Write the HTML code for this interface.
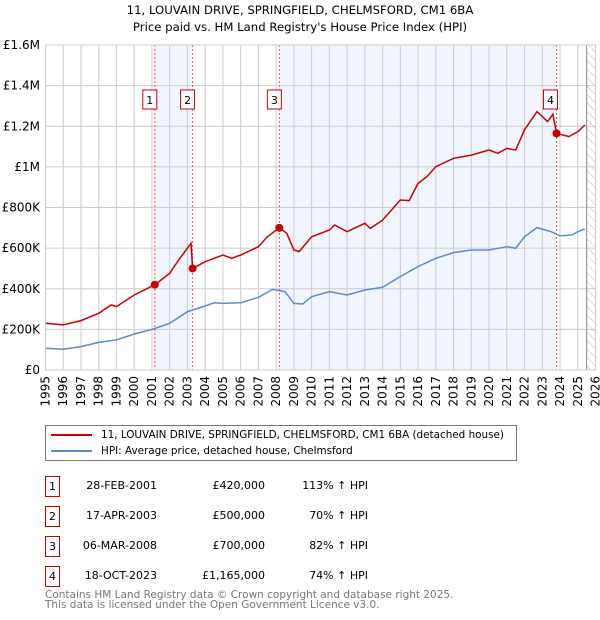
<!DOCTYPE html>
<html><head><meta charset="utf-8"><style>
body{margin:0;width:600px;height:620px;background:#fff;font-family:"DejaVu Sans","Liberation Sans",sans-serif;color:#000;position:relative;overflow:hidden}
.t{position:absolute;font-size:11.7px;white-space:nowrap}
.box{position:absolute;border:1px solid #c00;font-size:11px;text-align:center;line-height:19px;box-sizing:border-box;width:15px;height:21px}
.c{position:absolute;font-size:11px;white-space:nowrap}
</style></head><body>
<div class="t" style="left:0;width:600px;text-align:center;top:3px">11, LOUVAIN DRIVE, SPRINGFIELD, CHELMSFORD, CM1 6BA</div>
<div class="t" style="left:0;width:600px;text-align:center;top:20px">Price paid vs. HM Land Registry's House Price Index (HPI)</div>
<svg id="chart" width="600" height="420" style="position:absolute;left:0;top:0"></svg>
<div style="position:absolute;left:45px;top:425px;width:472px;height:36px;border:1px solid #777;box-sizing:border-box;font-size:10.4px">
 <div style="position:absolute;left:5px;top:3px;white-space:nowrap"><span style="display:inline-block;width:41px;height:2px;background:#c00;vertical-align:middle;margin-right:9px"></span>11, LOUVAIN DRIVE, SPRINGFIELD, CHELMSFORD, CM1 6BA (detached house)</div>
 <div style="position:absolute;left:5px;top:19px;white-space:nowrap"><span style="display:inline-block;width:41px;height:2px;background:#5b8bd0;vertical-align:middle;margin-right:9px"></span>HPI: Average price, detached house, Chelmsford</div>
</div>
<div id="tbl"></div>
<div style="position:absolute;left:45px;top:590px;font-size:10.5px;color:#777;line-height:10px">Contains HM Land Registry data © Crown copyright and database right 2025.<br>This data is licensed under the Open Government Licence v3.0.</div>
<script>
const hpiYears=[1995,1996,1997,1998,1999,2000,2001,2002,2003,2004,2004.5,2005,2006,2007,2007.8,2008.5,2009,2009.5,2010,2011,2012,2013,2014,2015,2016,2017,2018,2019,2020,2021,2021.5,2022,2022.7,2023.5,2024,2024.7,2025,2025.4];
const hpiValues=[107,102,115,136,148,177,200,230,287,315,331,328,331,358,397,386,328,325,361,386,369,394,407,460,509,550,578,591,591,607,599,656,701,681,660,665,681,694];
const propYears=[1995,1996,1997,1998,1998.7,1999,2000,2001.16,2002,2002.5,2003.2,2003.29,2004,2005,2005.5,2006,2007,2007.5,2008.18,2008.6,2009,2009.3,2010,2011,2011.3,2012,2013,2013.3,2014,2015,2015.5,2016,2016.5,2017,2018,2019,2020,2020.5,2021,2021.5,2022,2022.7,2023.3,2023.6,2023.8,2024.5,2025,2025.4];
const propValues=[230,222,243,279,320,312,369,420,476,541,624,500,533,566,550,566,607,656,700,673,591,583,656,689,714,681,722,697,738,837,834,919,952,1001,1042,1058,1083,1067,1091,1083,1182,1272,1223,1260,1165,1149,1173,1206];
const saleYears=[2001.16,2003.29,2008.18,2023.8];
const saleValues=[420,500,700,1165];
const saleLabels=["1","2","3","4"];
const saleDates=["28-FEB-2001","17-APR-2003","06-MAR-2008","18-OCT-2023"];
const salePrices=["£420,000","£500,000","£700,000","£1,165,000"];
const saleHpi=["113% ↑ HPI","70% ↑ HPI","82% ↑ HPI","74% ↑ HPI"];
const yTicks=[0,200,400,600,800,1000,1200,1400,1600];
const yTickLabels=["£0","£200K","£400K","£600K","£800K","£1M","£1.2M","£1.4M","£1.6M"];

const NS="http://www.w3.org/2000/svg";
const svg=document.getElementById('chart');
const X0=45.5,X1=595.5,Y0=370,Y1=45;
const xs=y=>X0+(y-1995)*(X1-X0)/31;
const ys=v=>Y0-v*(Y0-Y1)/1600;
function el(t,a,p){const e=document.createElementNS(NS,t);for(const k in a)e.setAttribute(k,a[k]);(p||svg).appendChild(e);return e;}
const defs=el('defs',{});
const pat=el('pattern',{id:'hatch',width:6,height:6,patternUnits:'userSpaceOnUse',patternTransform:'rotate(-45)'},defs);
el('line',{x1:0,y1:0,x2:0,y2:6,stroke:'#bbb','stroke-width':1},pat);
let r=el('rect',{x:xs(saleYears[0]),y:Y1,width:xs(saleYears[1])-xs(saleYears[0]),height:Y0-Y1,fill:'#eef3fc',opacity:0.8});

r=el('rect',{x:xs(saleYears[2]),y:Y1,width:xs(saleYears[3])-xs(saleYears[2]),height:Y0-Y1,fill:'#eef3fc',opacity:0.8});

r=el('rect',{x:xs(2025.5),y:Y1,width:X1-xs(2025.5),height:Y0-Y1,fill:'url(#hatch)'});

for(let yr=1995;yr<=2026;yr++){
 const g=el('line',{x1:xs(yr),x2:xs(yr),y1:Y1,y2:Y0,stroke:'#ccc','stroke-width':1});
 
 const t=el('text',{x:0,y:0,'font-size':12,'text-anchor':'end',transform:`translate(${xs(yr)+4},${Y0+6}) rotate(-90)`,fill:'#000'});
 t.textContent=yr;
 
}
yTicks.forEach((v,i)=>{
 const g=el('line',{x1:X0,x2:X1,y1:ys(v),y2:ys(v),stroke:'#ccc','stroke-width':1});
 
 const t=el('text',{x:40,y:ys(v)+4,'font-size':12,'text-anchor':'end',fill:'#000'});
 t.textContent=yTickLabels[i];
 
});
const ln=el('line',{x1:xs(2025.5),x2:xs(2025.5),y1:Y1,y2:Y0,stroke:'#888','stroke-width':1});

saleYears.forEach((y,i)=>{
 const l=el('line',{x1:xs(y),x2:xs(y),y1:Y1,y2:Y0,stroke:'#e55','stroke-width':1,'stroke-dasharray':'2,2'});
 
});
const pts=(xa,va)=>xa.map((x,i)=>xs(x).toFixed(1)+','+ys(va[i]).toFixed(1)).join(' ');
const hp=el('polyline',{points:pts(hpiYears,hpiValues),fill:'none',stroke:'#5b8bd0','stroke-width':1.5});

const pp=el('polyline',{points:pts(propYears,propValues),fill:'none',stroke:'#c00','stroke-width':1.5});

saleYears.forEach((y,i)=>{
 const c=el('circle',{cx:xs(y),cy:ys(saleValues[i]),r:4,fill:'#c00'});
 
 const bx=xs(y)-(i==3?7:6);
 const b=el('rect',{x:bx-6,y:90,width:14,height:19,fill:'#fff',stroke:'#c00','stroke-width':1});
 
 const t=el('text',{x:bx+1,y:104,'font-size':11,'text-anchor':'middle'});t.textContent=saleLabels[i];
 
});
const fr=el('rect',{x:X0,y:Y1,width:X1-X0,height:Y0-Y1,fill:'none',stroke:'#ccc'});

const tbl=document.getElementById('tbl');
saleLabels.forEach((lab,i)=>{
 const top=476+i*30;
 const row=document.createElement('div');
 
 
 row.innerHTML=`<div class="box" style="left:45px;top:${top}px">${lab}</div>
 <div class="c" style="right:443px;top:${top+3}px">${saleDates[i]}</div>
 <div class="c" style="right:335px;top:${top+3}px">${salePrices[i]}</div>
 <div class="c" style="right:232px;top:${top+3}px">${saleHpi[i]}</div>`;
 tbl.appendChild(row);
});
</script>
</body></html>
